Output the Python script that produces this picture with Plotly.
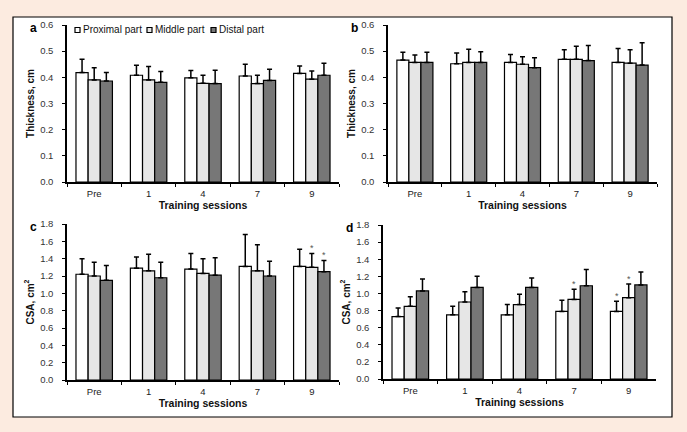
import plotly.graph_objects as go

sessions = ["Pre", "1", "4", "7", "9"]
series_names = ["Proximal part", "Middle part", "Distal part"]

# Panel a: thickness (cm), means and upper SD
thick_a = {
    "Proximal part": [0.418, 0.408, 0.398, 0.405, 0.415],
    "Middle part":   [0.390, 0.390, 0.377, 0.376, 0.393],
    "Distal part":   [0.386, 0.381, 0.376, 0.388, 0.408],
}
thick_a_sd = {
    "Proximal part": [0.051, 0.038, 0.028, 0.045, 0.028],
    "Middle part":   [0.047, 0.051, 0.031, 0.032, 0.031],
    "Distal part":   [0.032, 0.041, 0.051, 0.043, 0.046],
}
# Panel b: thickness (cm)
thick_b = {
    "Proximal part": [0.466, 0.452, 0.457, 0.469, 0.457],
    "Middle part":   [0.457, 0.457, 0.450, 0.469, 0.454],
    "Distal part":   [0.457, 0.457, 0.437, 0.464, 0.447],
}
thick_b_sd = {
    "Proximal part": [0.030, 0.041, 0.030, 0.036, 0.053],
    "Middle part":   [0.028, 0.050, 0.029, 0.050, 0.051],
    "Distal part":   [0.039, 0.041, 0.038, 0.058, 0.085],
}
# Panel c: CSA (cm2)
csa_c = {
    "Proximal part": [1.22, 1.29, 1.28, 1.31, 1.31],
    "Middle part":   [1.20, 1.26, 1.23, 1.26, 1.30],
    "Distal part":   [1.15, 1.18, 1.21, 1.20, 1.25],
}
csa_c_sd = {
    "Proximal part": [0.18, 0.13, 0.18, 0.37, 0.20],
    "Middle part":   [0.16, 0.19, 0.17, 0.30, 0.16],
    "Distal part":   [0.17, 0.18, 0.20, 0.17, 0.13],
}
# Panel d: CSA (cm2)
csa_d = {
    "Proximal part": [0.73, 0.75, 0.75, 0.79, 0.79],
    "Middle part":   [0.85, 0.90, 0.87, 0.93, 0.95],
    "Distal part":   [1.03, 1.07, 1.07, 1.09, 1.10],
}
csa_d_sd = {
    "Proximal part": [0.10, 0.10, 0.12, 0.13, 0.12],
    "Middle part":   [0.11, 0.12, 0.12, 0.12, 0.16],
    "Distal part":   [0.14, 0.13, 0.11, 0.19, 0.15],
}
# significance markers: (panel, series, session)
stars = [
    ("c", "Middle part", "9"), ("c", "Distal part", "9"),
    ("d", "Middle part", "7"), ("d", "Proximal part", "9"), ("d", "Middle part", "9"),
]

colors = {"Proximal part": "#ffffff", "Middle part": "#e6e6e6", "Distal part": "#777777"}

W, H = 687, 432
def px(x): return x / W
def py(y): return 1 - y / H

panels = {
    "a": dict(xa="x", ya="y", data=thick_a, sd=thick_a_sd, xd=(67, 339), yd=(182, 25),
              yr=[0, 0.6], dt=0.1, title="Thickness, cm"),
    "b": dict(xa="x2", ya="y2", data=thick_b, sd=thick_b_sd, xd=(388, 657), yd=(182, 25),
              yr=[0, 0.6], dt=0.1, title="Thickness, cm"),
    "c": dict(xa="x3", ya="y3", data=csa_c, sd=csa_c_sd, xd=(67, 339), yd=(380, 224),
              yr=[0, 1.8], dt=0.2, title="CSA, cm<sup>2</sup>"),
    "d": dict(xa="x4", ya="y4", data=csa_d, sd=csa_d_sd, xd=(383, 656), yd=(379, 225),
              yr=[0, 1.8], dt=0.2, title="CSA, cm<sup>2</sup>"),
}

BARGAP = 0.33
fig = go.Figure()
font_family = "Liberation Sans, Arial, sans-serif"

for key, p in panels.items():
    for name in series_names:
        fig.add_trace(go.Bar(
            x=sessions, y=p["data"][name], name=name,
            xaxis=p["xa"], yaxis=p["ya"],
            marker=dict(color=colors[name], line=dict(color="black", width=1.2)),
            error_y=dict(type="data", symmetric=False, array=p["sd"][name],
                         arrayminus=[0] * len(sessions), color="black",
                         thickness=1.5, width=2.5),
            showlegend=False,
        ))
    xs = "xaxis" if p["xa"] == "x" else "xaxis" + p["xa"][1:]
    ys = "yaxis" if p["ya"] == "y" else "yaxis" + p["ya"][1:]
    fig.layout[xs] = dict(
        domain=[px(p["xd"][0]), px(p["xd"][1])], anchor=p["ya"],
        type="category", categoryorder="array", categoryarray=sessions,
        range=[-0.5, len(sessions) - 0.5],
        tickson="boundaries", ticks="outside", ticklen=3, ticklabelstandoff=2,
        tickcolor="black", showline=True, linecolor="black", linewidth=1.5,
        showgrid=False, tickfont=dict(size=9.5, color="#222", family=font_family),
        title=dict(text="<b>Training sessions</b>", standoff=2,
                   font=dict(size=10.5, color="#111", family=font_family)),
        automargin=False, fixedrange=True,
    )
    fig.layout[ys] = dict(
        domain=[py(p["yd"][0]), py(p["yd"][1])], anchor=p["xa"],
        range=p["yr"], dtick=p["dt"], tick0=0, tickformat=".1f",
        ticks="outside", ticklen=3, tickcolor="black", ticklabelstandoff=7,
        showline=True, linecolor="black", linewidth=1.5, showgrid=False,
        zeroline=False, tickfont=dict(size=9.5, color="#333", family=font_family),
        title=dict(text="<b>" + p["title"] + "</b>", standoff=4,
                   font=dict(size=10, color="#111", family=font_family)),
        automargin=False, fixedrange=True,
    )
    # panel letter
    fig.add_annotation(x=px(p["xd"][0] - 39), y=py(p["yd"][1] + 3), xref="paper", yref="paper",
                       text="<b>" + key + "</b>", showarrow=False,
                       font=dict(size=12, color="black", family=font_family),
                       xanchor="left", yanchor="middle")

# significance asterisks
for key, name, sess in stars:
    p = panels[key]
    i = sessions.index(sess)
    j = series_names.index(name)
    cat_w = (p["xd"][1] - p["xd"][0]) / len(sessions)
    bar_w = cat_w * (1 - BARGAP) / 3
    top = p["data"][name][i] + p["sd"][name][i]
    fig.add_annotation(x=i, y=top, xref=p["xa"], yref=p["ya"], text="*",
                       showarrow=False, xshift=(j - 1) * bar_w, yanchor="bottom", yshift=-2,
                       font=dict(size=9, color="#555", family=font_family))

# white frame
fig.add_shape(type="rect", xref="paper", yref="paper",
              x0=px(13), x1=px(672), y0=py(417), y1=py(17),
              fillcolor="white", line=dict(color="black", width=1.2), layer="below")

# legend (panel a): small boxes + labels
legend_items = [(75, "Proximal part"), (147, "Middle part"), (211, "Distal part")]
for (lx, name) in legend_items:
    fig.add_shape(type="rect", xref="paper", yref="paper",
                  x0=px(lx), x1=px(lx + 5), y0=py(32.5), y1=py(27.5),
                  fillcolor=colors[name], line=dict(color="black", width=1.2))
    fig.add_annotation(x=px(lx + 6), y=py(30), xref="paper", yref="paper",
                       text=name, showarrow=False, xanchor="left", yanchor="middle",
                       font=dict(size=10, color="#111", family=font_family))

fig.update_layout(
    width=W, height=H, margin=dict(l=0, r=0, t=0, b=0, autoexpand=False),
    paper_bgcolor="#fcebe0", plot_bgcolor="white",
    barmode="group", bargap=BARGAP, bargroupgap=0,
    showlegend=False,
    font=dict(family=font_family),
)

fig.write_html("out.html", config={"displayModeBar": False},
               post_script="document.body.style.margin='0';document.body.style.background='#fcebe0';")
